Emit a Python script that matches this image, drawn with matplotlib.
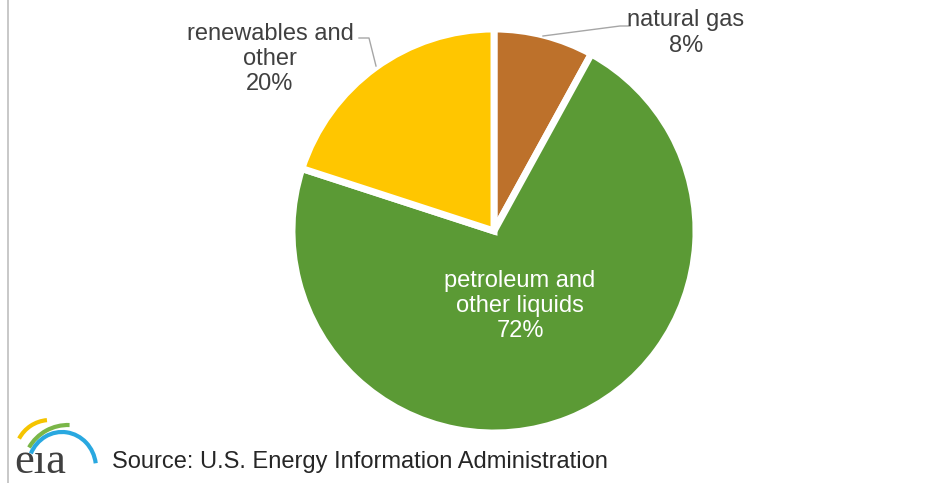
import matplotlib
matplotlib.use("Agg")
import matplotlib.pyplot as plt
from matplotlib.patches import Arc

categories = ["natural gas", "petroleum and\nother liquids", "renewables and\nother"]
values = [8, 72, 20]
colors = ["#BD712B", "#5B9A35", "#FFC600"]
source = "Source: U.S. Energy Information Administration"

W, H = 934, 483
fig = plt.figure(figsize=(W / 100, H / 100), dpi=100)
ax = fig.add_axes([0, 0, 1, 1])


def Y(y):
    return H - y


cx, cy, r = 494, 231, 202
ax.pie(values, colors=colors, startangle=90, counterclock=False,
       center=(cx, Y(cy)), radius=r, frame=True,
       wedgeprops=dict(edgecolor="white", linewidth=5))
ax.set_xlim(0, W)
ax.set_ylim(0, H)
ax.set_aspect("equal")
ax.axis("off")

font = "Liberation Sans"
tc = "#404040"
fs = 17
ls = 1.2
ax.text(686, Y(33), categories[0] + "\n" + f"{values[0]}%", ha="center", va="center",
        fontsize=fs, color=tc, family=font, linespacing=ls)
ax.text(270, Y(59), categories[2] + "\n" + f"{values[2]}%", ha="center", va="center",
        fontsize=fs, color=tc, family=font, linespacing=ls)
ax.text(520, Y(306), categories[1] + "\n" + f"{values[1]}%", ha="center", va="center",
        fontsize=fs, color="white", family=font, linespacing=ls)

# leader lines
ax.plot([630, 620, 543], [Y(26), Y(26), Y(36)], color="#A6A6A6", lw=1)
ax.plot([359, 369, 376], [Y(38), Y(38), Y(66)], color="#A6A6A6", lw=1)

# left border
ax.plot([8, 8], [0, H], color="#BFBFBF", lw=1.2)

# logo
ax.text(14, Y(473), "e\u0131a", fontsize=32, family="Liberation Serif", color="#404040",
        ha="left", va="baseline")
ax.add_patch(Arc((50, Y(455)), 70, 70, theta1=95, theta2=152, color="#F5C400", lw=3))
ax.add_patch(Arc((68, Y(470)), 90, 90, theta1=88, theta2=150, color="#7AB648", lw=3))
ax.add_patch(Arc((62, Y(468)), 68, 72, theta1=8, theta2=155, color="#29A8E0", lw=3))

ax.text(112, Y(462), source, fontsize=fs, family=font, color="#262626",
        ha="left", va="center")

fig.savefig("out.png", dpi=100, facecolor="white")
